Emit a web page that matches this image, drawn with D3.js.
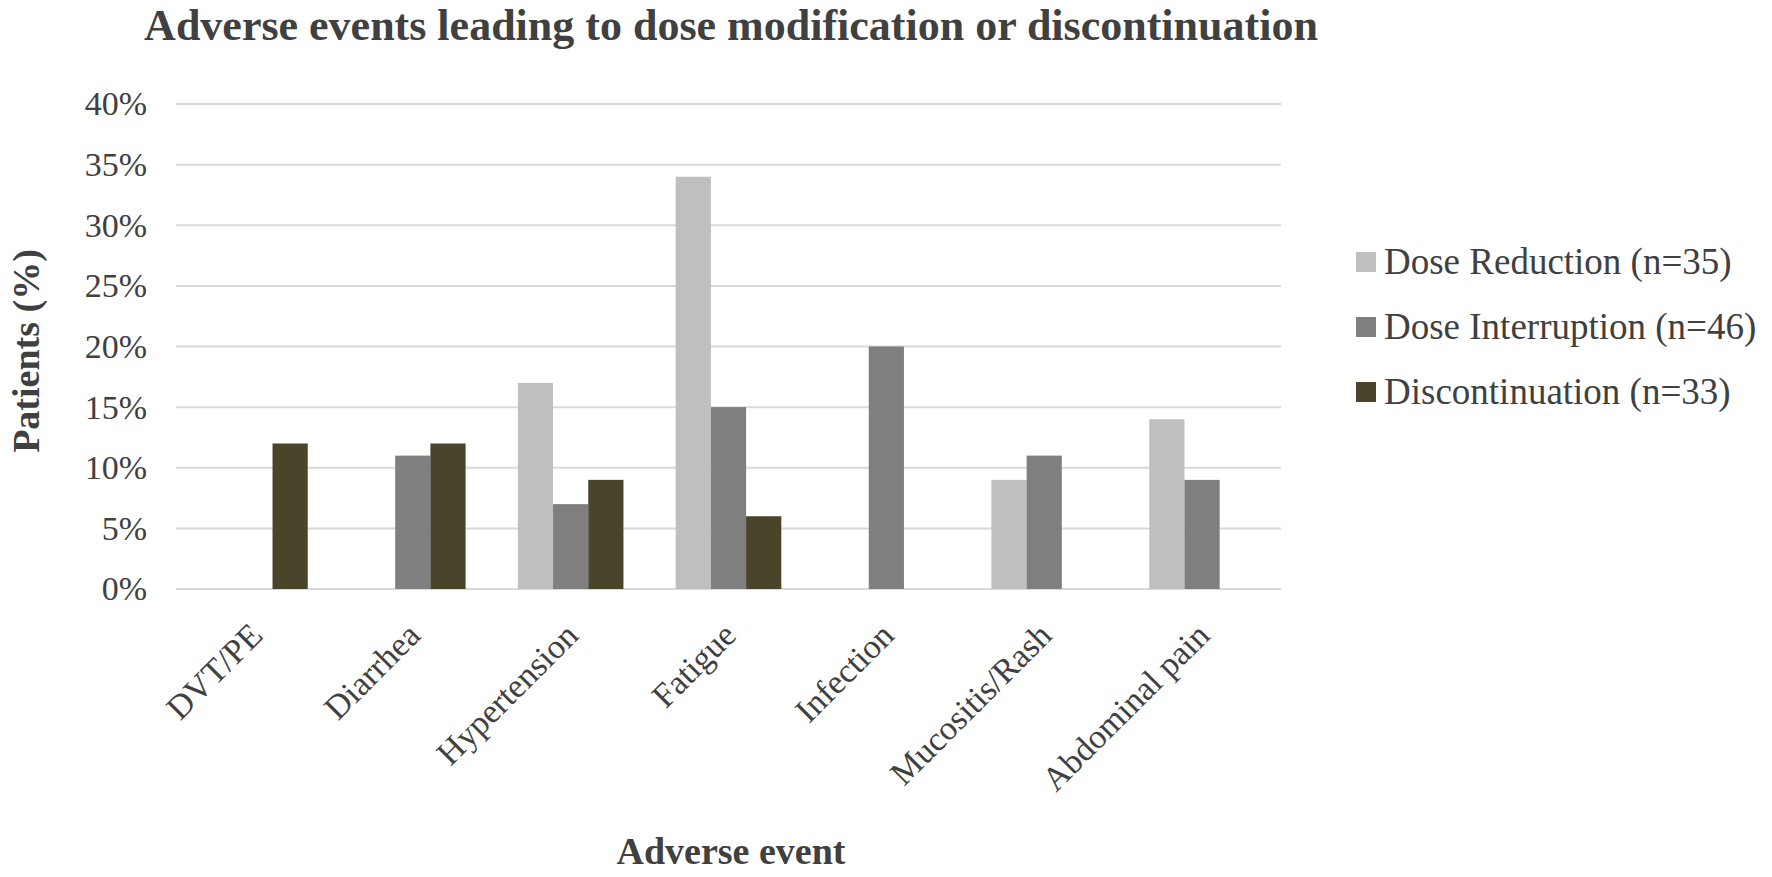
<!DOCTYPE html>
<html>
<head>
<meta charset="utf-8">
<script src="https://cdn.jsdelivr.net/npm/d3@7"></script>
<style>
  body { margin: 0; background: #fff; }
  text { font-family: "Liberation Serif", "Times New Roman", serif; }
</style>
</head>
<body>
<div id="chart"></div>
<script>
// data
var events = ["DVT/PE", "Diarrhea", "Hypertension", "Fatigue", "Infection", "Mucositis/Rash", "Abdominal pain"];
var seriesNames = ["Dose Reduction (n=35)", "Dose Interruption (n=46)", "Discontinuation (n=33)"];
var doseReduction = [0, 0, 17, 34, 0, 9, 14];
var doseInterruption = [0, 11, 7, 15, 20, 11, 9];
var discontinuation = [12, 12, 9, 6, 0, 0, 0];
var yTicks = [0, 5, 10, 15, 20, 25, 30, 35, 40];
var colors = ["#bfbfbf", "#7f7f7f", "#4a442b"];

var seriesValues = [doseReduction, doseInterruption, discontinuation];

var width = 1772, height = 877;
var margin = {top: 104, left: 176, right: 491, bottom: 288};

var svg = d3.select("#chart")
  .append("svg")
  .attr("width", width)
  .attr("height", height);

var x = d3.scaleBand()
  .domain(events)
  .range([margin.left, width - margin.right])
  .paddingInner(0.331)
  .paddingOuter(0.1655);

var x1 = d3.scaleBand()
  .domain(d3.range(seriesNames.length))
  .range([0, x.bandwidth()]);

var y = d3.scaleLinear()
  .domain([0, 40])
  .range([height - margin.bottom, margin.top]);

// gridlines
svg.append("g")
  .selectAll("line")
  .data(yTicks)
  .enter()
  .append("line")
  .attr("x1", margin.left)
  .attr("x2", width - margin.right)
  .attr("y1", function(d) { return y(d); })
  .attr("y2", function(d) { return y(d); })
  .attr("stroke", "#d9d9d9")
  .attr("stroke-width", 2);

// y axis labels
var yAxis = svg.append("g")
  .attr("transform", "translate(" + margin.left + ",0)")
  .call(d3.axisLeft(y).tickValues(yTicks).tickSize(0).tickPadding(29).tickFormat(function(d) { return d + "%"; }));
yAxis.select(".domain").remove();
yAxis.selectAll("text")
  .attr("font-size", 34)
  .attr("fill", "#404040")
  .style("font-family", "Liberation Serif, serif");

// bars
var groups = svg.append("g")
  .selectAll("g")
  .data(events)
  .enter()
  .append("g")
  .attr("transform", function(d) { return "translate(" + x(d) + ",0)"; });

groups.selectAll("rect")
  .data(function(d, i) { return seriesValues.map(function(s, j) { return {s: j, v: s[i]}; }); })
  .enter()
  .append("rect")
  .attr("x", function(d) { return x1(d.s); })
  .attr("width", x1.bandwidth())
  .attr("y", function(d) { return y(d.v); })
  .attr("height", function(d) { return y(0) - y(d.v); })
  .attr("fill", function(d) { return colors[d.s]; });

// x axis labels
var xAxis = svg.append("g")
  .attr("transform", "translate(0," + y(0) + ")")
  .call(d3.axisBottom(x).tickSize(0).tickPadding(0));
xAxis.select(".domain").remove();
xAxis.selectAll("text")
  .attr("font-size", 34)
  .attr("fill", "#404040")
  .style("font-family", "Liberation Serif, serif")
  .attr("text-anchor", "end")
  .attr("dy", "0.35em")
  .attr("transform", "translate(1,40) rotate(-45)");

// title
svg.append("text")
  .attr("x", 731)
  .attr("y", 40)
  .attr("text-anchor", "middle")
  .attr("font-size", 44)
  .attr("font-weight", "bold")
  .attr("fill", "#404040")
  .text("Adverse events leading to dose modification or discontinuation");

// axis titles
svg.append("text")
  .attr("x", 731)
  .attr("y", 864)
  .attr("text-anchor", "middle")
  .attr("font-size", 38)
  .attr("font-weight", "bold")
  .attr("fill", "#404040")
  .text("Adverse event");

svg.append("text")
  .attr("transform", "translate(39,351) rotate(-90)")
  .attr("text-anchor", "middle")
  .attr("font-size", 38)
  .attr("font-weight", "bold")
  .attr("fill", "#404040")
  .text("Patients (%)");

// legend
var legend = svg.append("g")
  .selectAll("g")
  .data(seriesNames)
  .enter()
  .append("g")
  .attr("transform", function(d, i) { return "translate(1356," + (262 + i * 65) + ")"; });

legend.append("rect")
  .attr("x", 0)
  .attr("y", -10)
  .attr("width", 20)
  .attr("height", 20)
  .attr("fill", function(d, i) { return colors[i]; });

legend.append("text")
  .attr("x", 28)
  .attr("y", 0)
  .attr("dy", "0.33em")
  .attr("font-size", 37)
  .attr("fill", "#404040")
  .text(function(d) { return d; });
</script>
</body>
</html>
